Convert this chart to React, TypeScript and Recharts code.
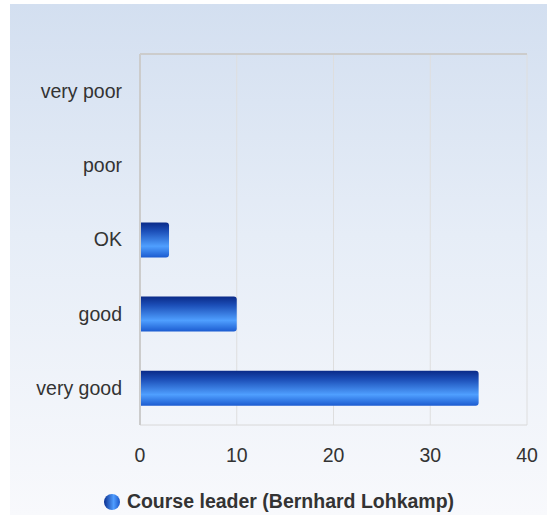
import React from 'react'
import { BarChart, Bar, XAxis, YAxis, CartesianGrid, Legend } from 'recharts'

const ratings = ['very poor', 'poor', 'OK', 'good', 'very good']
const counts = [0, 0, 3, 10, 35]
const xTicks = [0, 10, 20, 30, 40]
const seriesName = 'Course leader (Bernhard Lohkamp)'

const data = ratings.map((r, i) => ({ rating: r, count: counts[i] }))

const FONT = '"Liberation Sans", Arial, sans-serif'

function LegendContent() {
  return (
    <div style={{ display: 'flex', justifyContent: 'center', alignItems: 'center', fontFamily: FONT }}>
      <svg width={18} height={18} style={{ marginRight: 6 }}>
        <defs>
          <linearGradient id="legendDot" x1="0" y1="0" x2="1" y2="0">
            <stop offset="0%" stopColor="#0b2f8f" />
            <stop offset="60%" stopColor="#4f9dff" />
            <stop offset="100%" stopColor="#1a56c8" />
          </linearGradient>
        </defs>
        <circle cx={9} cy={9} r={8} fill="url(#legendDot)" />
      </svg>
      <span style={{ fontSize: 19.5, fontWeight: 'bold', color: '#333' }}>{seriesName}</span>
    </div>
  )
}

export default function App() {
  return (
    <div
      style={{
        position: 'absolute',
        left: 10,
        top: 4,
        width: 537,
        height: 511,
        background: 'linear-gradient(to bottom, #d3dff0 0%, #e6edf7 45%, #f8f9fc 100%)',
      }}
    >
      <BarChart
        width={537}
        height={511}
        data={data}
        layout="vertical"
        margin={{ top: 50, right: 20, bottom: 50, left: 0 }}
        barCategoryGap="26%"
      >
        <defs>
          <linearGradient id="barFill" x1="0" y1="0" x2="0" y2="1">
            <stop offset="0%" stopColor="#0a2a88" />
            <stop offset="25%" stopColor="#1c4fb8" />
            <stop offset="68%" stopColor="#4f9fff" />
            <stop offset="100%" stopColor="#1b5bd0" />
          </linearGradient>
        </defs>
        <CartesianGrid horizontal={false} stroke="#dedede" />
        <CartesianGrid
          vertical={false}
          stroke="#cccccc"
          strokeWidth={2}
          horizontalCoordinatesGenerator={({ offset }: any) => [offset.top]}
        />
        <XAxis
          type="number"
          domain={[0, 40]}
          ticks={xTicks}
          tickLine={false}
          tickSize={0}
          tickMargin={23}
          height={40}
          axisLine={{ stroke: '#d8d8d8' }}
          tick={{ fontSize: 19.5, fill: '#333', fontFamily: FONT }}
        />
        <YAxis
          type="category"
          dataKey="rating"
          width={130}
          tickLine={false}
          tickSize={0}
          tickMargin={18}
          axisLine={{ stroke: '#cccccc', strokeWidth: 2 }}
          tick={{ fontSize: 19.5, fill: '#333', fontFamily: FONT }}
        />
        <Legend
          verticalAlign="middle"
          align="center"
          layout="horizontal"
          content={<LegendContent />}
          wrapperStyle={{ top: 486, left: 0, width: 537 }}
        />
        <Bar
          dataKey="count"
          name={seriesName}
          fill="url(#barFill)"
          barSize={35}
          radius={[0, 3, 3, 0]}
          isAnimationActive={false}
        />
      </BarChart>
    </div>
  )
}
